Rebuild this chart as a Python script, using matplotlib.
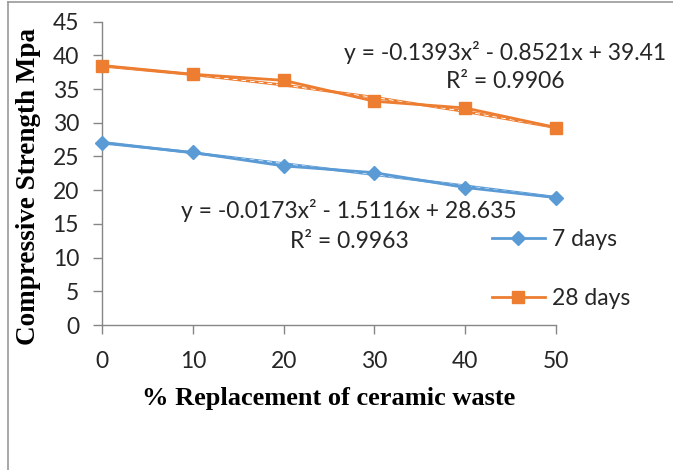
import numpy as np
import matplotlib
matplotlib.use("Agg")
import matplotlib.pyplot as plt
from matplotlib.lines import Line2D

categories = [0, 10, 20, 30, 40, 50]
days7 = [27.0, 25.6, 23.6, 22.6, 20.4, 18.9]
days28 = [38.5, 37.2, 36.3, 33.2, 32.2, 29.3]
series_names = ["7 days", "28 days"]
# trendline coefficients (Excel, x = category index 1..n)
coef7 = [-0.0173, -1.5116, 28.635]
coef28 = [-0.1393, -0.8521, 39.41]
eq7 = "y = -0.0173x² - 1.5116x + 28.635"
r7 = "R² = 0.9963"
eq28 = "y = -0.1393x² - 0.8521x + 39.41"
r28 = "R² = 0.9906"
yticks = [0, 5, 10, 15, 20, 25, 30, 35, 40, 45]

blue = "#5B9BD5"
orange = "#ED7D31"
grey = "#868686"
txt = "#262626"

W, H = 673, 470
fig = plt.figure(figsize=(W / 100, H / 100), dpi=100)

# outer frame (top & left visible)
fig.add_artist(Line2D([8 / W, 8 / W], [0, 1 - 2 / H], color="#9a9a9a", lw=1.2, transform=fig.transFigure))
fig.add_artist(Line2D([8 / W, 1], [1 - 2 / H, 1 - 2 / H], color="#9a9a9a", lw=1.2, transform=fig.transFigure))

ax = fig.add_axes([102 / W, 1 - 325 / H, (556 - 102) / W, (325 - 21.7) / H])
ax.set_xlim(0, 50)
ax.set_ylim(0, 45)

x = np.array(categories, dtype=float)
idx = np.arange(1, len(categories) + 1)
trend7 = np.polyval(coef7, idx)
trend28 = np.polyval(coef28, idx)

for tr, col in [(trend7, blue), (trend28, orange)]:
    ax.plot(x, tr, color=col, lw=2.0, zorder=2, clip_on=False)
    ax.plot(x, tr, color="white", lw=0.7, ls=(0, (5, 4)), zorder=2.1, clip_on=False)

l7, = ax.plot(x, days7, color=blue, lw=2.0, marker="D", ms=7, zorder=3, clip_on=False, label=series_names[0])
l28, = ax.plot(x, days28, color=orange, lw=2.0, marker="s", ms=9, zorder=3, clip_on=False, label=series_names[1])

for s in ["top", "right"]:
    ax.spines[s].set_visible(False)
for s in ["left", "bottom"]:
    ax.spines[s].set_color(grey)
    ax.spines[s].set_linewidth(1.0)

ax.set_yticks(yticks)
ax.set_xticks(categories)
ax.tick_params(axis="y", direction="out", length=6.5, width=1, color=grey, pad=10, labelsize=16.5, labelcolor=txt)
ax.tick_params(axis="x", direction="out", length=6.5, width=1, color=grey, pad=12, labelsize=16.5, labelcolor=txt)
for lab in ax.get_xticklabels() + ax.get_yticklabels():
    lab.set_fontfamily("Lato")

ax.set_xlabel("% Replacement of ceramic waste", fontfamily="Liberation Serif", fontweight="bold", fontsize=19)
ax.set_ylabel("Compressive Strength Mpa", fontfamily="Liberation Serif", fontweight="bold", fontsize=19.5,
              va="center", ha="center")
ax.xaxis.set_label_coords(0.5, -0.205)
ax.yaxis.set_label_coords((29 - 102) / 454, 0.455)

# trendline equations
tkw = dict(ha="center", va="center", fontfamily="Lato", fontsize=16.5, color=txt)
fig.text(505 / W, 1 - 53 / H, eq28, **tkw)
fig.text(505 / W, 1 - 82 / H, r28, **tkw)
fig.text(349 / W, 1 - 210 / H, eq7, **tkw)
fig.text(349 / W, 1 - 242 / H, r7, **tkw)

leg = fig.legend(handles=[l7, l28], loc="upper left", bbox_to_anchor=(492 / W, 1 - 229 / H),
                 frameon=False, prop={"family": "Lato", "size": 16.5}, handlelength=2.3,
                 handletextpad=0.3, labelspacing=1.65, borderaxespad=0, borderpad=0)
for t in leg.get_texts():
    t.set_color(txt)

fig.savefig("out.png", dpi=100, facecolor="white")
